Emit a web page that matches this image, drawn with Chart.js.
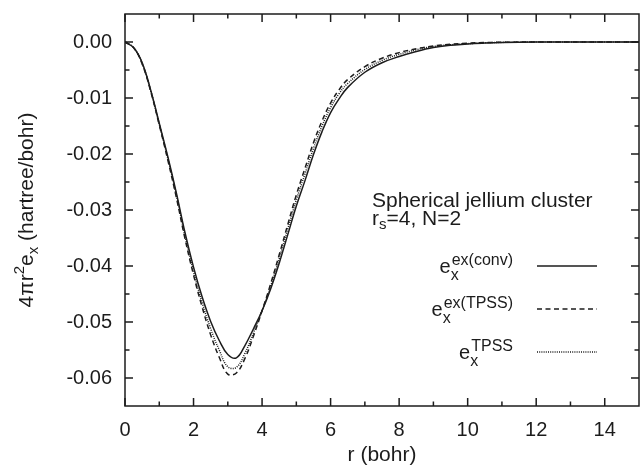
<!DOCTYPE html>
<html>
<head>
<meta charset="utf-8">
<script src="https://cdn.jsdelivr.net/npm/chart.js@4.4.0/dist/chart.umd.min.js"></script>
<style>
  html, body { margin: 0; padding: 0; background: #fff; }
  canvas { display: block; }
</style>
</head>
<body>
<canvas id="chart" width="640" height="470"></canvas>
<script>
// ==================== DATA ====================
const rValues = [0, 0.25, 0.5, 0.75, 1, 1.25, 1.5, 1.75, 2, 2.25, 2.5, 2.75, 3, 3.25, 3.5, 3.75,
    4, 4.25, 4.5, 4.75, 5, 5.25, 5.5, 5.75, 6, 6.25, 6.5, 7, 7.5, 8, 8.5, 9, 9.5, 10, 10.5, 11, 12, 13, 14, 15];

// e_x^ex(conv) - solid
const exConv = [0, -0.0010, -0.0037, -0.0086, -0.0145, -0.0205, -0.0270, -0.0340, -0.0402, -0.0455, -0.0499, -0.0533,
    -0.0558, -0.0564, -0.0542, -0.0512, -0.0480, -0.0441, -0.0395, -0.0344, -0.0293, -0.0248, -0.0201, -0.0160,
    -0.0126, -0.0101, -0.0081, -0.0054, -0.0037, -0.0026, -0.0017, -0.0010, -0.0006, -0.00035, -0.0002, -0.0001,
    -0.00002, 0, 0, 0];

// e_x^ex(TPSS) - dashed
const exTPSS = [0, -0.0010, -0.0039, -0.0088, -0.0148, -0.0211, -0.0278, -0.0351, -0.0416, -0.0473, -0.0523, -0.0563,
    -0.0593, -0.0591, -0.0565, -0.0525, -0.0480, -0.0432, -0.0380, -0.0326, -0.0273, -0.0226, -0.0180, -0.0141,
    -0.0109, -0.0085, -0.0067, -0.0044, -0.0029, -0.0019, -0.0012, -0.0007, -0.0004, -0.0002, -0.0001, -0.00005,
    0, 0, 0, 0];

// e_x^TPSS - dotted
const tpss = [0, -0.0010, -0.0038, -0.0087, -0.0147, -0.0208, -0.0274, -0.0346, -0.0410, -0.0465, -0.0512, -0.0550,
    -0.0580, -0.0581, -0.0556, -0.0519, -0.0480, -0.0436, -0.0387, -0.0334, -0.0282, -0.0236, -0.0190, -0.0150,
    -0.0117, -0.0092, -0.0074, -0.0049, -0.0033, -0.0022, -0.0014, -0.0008, -0.0005, -0.0003, -0.00015, -0.00007,
    0, 0, 0, 0];

const xTicks = [0, 2, 4, 6, 8, 10, 12, 14];
const xMinorTicks = [1, 3, 5, 7, 9, 11, 13];
const yTicks = [0, -0.01, -0.02, -0.03, -0.04, -0.05, -0.06];
const yMinorTicks = [-0.005, -0.015, -0.025, -0.035, -0.045, -0.055];

const legendItems = [
    { sup: 'ex(conv)', dash: [] },
    { sup: 'ex(TPSS)', dash: [5, 3.5] },
    { sup: 'TPSS', dash: [1, 1.2] }
];

const INK = '#1c1c1c';
const FONT = '"Liberation Sans", Arial, sans-serif';

// ==================== HELPERS ====================
function toPoints(ys) {
    return rValues.map((r, i) => ({ x: r, y: ys[i] }));
}

function curve(label, ys, dash) {
    return {
        label, data: toPoints(ys),
        borderColor: INK, borderWidth: 1.5, borderDash: dash,
        pointRadius: 0, tension: 0.4, fill: false
    };
}

// frame, inward ticks, y title, annotation and legend
const decorations = {
    id: 'decorations',
    afterDraw(chart) {
        const { ctx, chartArea: a, scales: { x, y } } = chart;
        ctx.save();
        ctx.strokeStyle = INK;
        ctx.lineWidth = 1.5;
        ctx.setLineDash([]);
        ctx.strokeRect(a.left, a.top, a.right - a.left, a.bottom - a.top);

        ctx.beginPath();
        const xt = (v, len) => {
            const px = x.getPixelForValue(v);
            ctx.moveTo(px, a.bottom); ctx.lineTo(px, a.bottom - len);
            ctx.moveTo(px, a.top); ctx.lineTo(px, a.top + len);
        };
        const yt = (v, len) => {
            const py = y.getPixelForValue(v);
            ctx.moveTo(a.left, py); ctx.lineTo(a.left + len, py);
            ctx.moveTo(a.right, py); ctx.lineTo(a.right - len, py);
        };
        xTicks.forEach(v => xt(v, 8));
        xMinorTicks.forEach(v => xt(v, 4.5));
        yTicks.forEach(v => yt(v, 8));
        yMinorTicks.forEach(v => yt(v, 4.5));
        ctx.stroke();

        ctx.fillStyle = INK;
        ctx.textBaseline = 'alphabetic';

        // y axis title: 4πr²eₓ (hartree/bohr)
        ctx.save();
        const parts = [
            { t: '4\u03c0r', s: 21, dy: 0 },
            { t: '2', s: 15, dy: -9 },
            { t: 'e', s: 21, dy: 0 },
            { t: 'x', s: 15, dy: 5 },
            { t: ' (hartree/bohr)', s: 21, dy: 0 }
        ];
        let total = 0;
        parts.forEach(p => { ctx.font = p.s + 'px ' + FONT; p.w = ctx.measureText(p.t).width; total += p.w; });
        ctx.translate(33, (a.top + a.bottom) / 2 + total / 2);
        ctx.rotate(-Math.PI / 2);
        let cx = 0;
        parts.forEach(p => {
            ctx.font = p.s + 'px ' + FONT;
            ctx.fillText(p.t, cx, p.dy);
            cx += p.w;
        });
        ctx.restore();

        // annotation
        ctx.textAlign = 'left';
        ctx.font = '21px ' + FONT;
        ctx.fillText('Spherical jellium cluster', 372, 207);
        ctx.fillText('r', 372, 225);
        let w = ctx.measureText('r').width;
        ctx.font = '15px ' + FONT;
        ctx.fillText('s', 372 + w, 229);
        w += ctx.measureText('s').width;
        ctx.font = '21px ' + FONT;
        ctx.fillText('=4, N=2', 372 + w, 225);

        // legend
        legendItems.forEach((it, i) => {
            const lineY = 266 + i * 43;
            const supRight = 513;
            ctx.font = '16px ' + FONT;
            const supW = ctx.measureText(it.sup).width;
            ctx.textAlign = 'right';
            ctx.fillText(it.sup, supRight, lineY - 1);
            ctx.font = '20px ' + FONT;
            const eRight = supRight - supW - 1;
            ctx.fillText('e', eRight, lineY + 7);
            ctx.textAlign = 'left';
            ctx.font = '16px ' + FONT;
            ctx.fillText('x', eRight, lineY + 14);

            ctx.beginPath();
            ctx.lineWidth = 1.5;
            ctx.setLineDash(it.dash);
            ctx.moveTo(537, lineY);
            ctx.lineTo(597, lineY);
            ctx.stroke();
        });
        ctx.restore();
    }
};

// ==================== CHART ====================
new Chart(document.getElementById('chart'), {
    type: 'line',
    data: {
        datasets: [
            curve('ex(conv)', exConv, []),
            curve('ex(TPSS)', exTPSS, [5, 3.5]),
            curve('TPSS', tpss, [1, 1.2])
        ]
    },
    options: {
        responsive: false, animation: false, devicePixelRatio: 1,
        layout: { padding: { top: 14, right: 1, left: 0, bottom: 0 } },
        plugins: { legend: { display: false }, tooltip: { enabled: false } },
        scales: {
            x: {
                type: 'linear', min: 0, max: 15,
                afterBuildTicks: s => { s.ticks = xTicks.map(v => ({ value: v })); },
                afterFit: s => { s.height = 64; s.paddingLeft = 0; s.paddingRight = 0; },
                grid: { display: false, drawTicks: false },
                border: { display: false },
                ticks: { color: INK, font: { family: FONT, size: 20 }, padding: 12, maxRotation: 0,
                    callback: v => String(v) },
                title: { display: true, text: 'r (bohr)', color: INK, font: { family: FONT, size: 21 },
                    padding: { top: 0, bottom: 2 } }
            },
            y: {
                min: -0.065, max: 0.005,
                afterBuildTicks: s => { s.ticks = yTicks.map(v => ({ value: v })); },
                afterFit: s => { s.width = 125; s.paddingTop = 0; s.paddingBottom = 0; },
                grid: { display: false, drawTicks: false },
                border: { display: false },
                ticks: { color: INK, font: { family: FONT, size: 20 }, padding: 13,
                    callback: v => (Math.abs(v) < 1e-9 ? 0 : v).toFixed(2) }
            }
        }
    },
    plugins: [decorations]
});
</script>
</body>
</html>
